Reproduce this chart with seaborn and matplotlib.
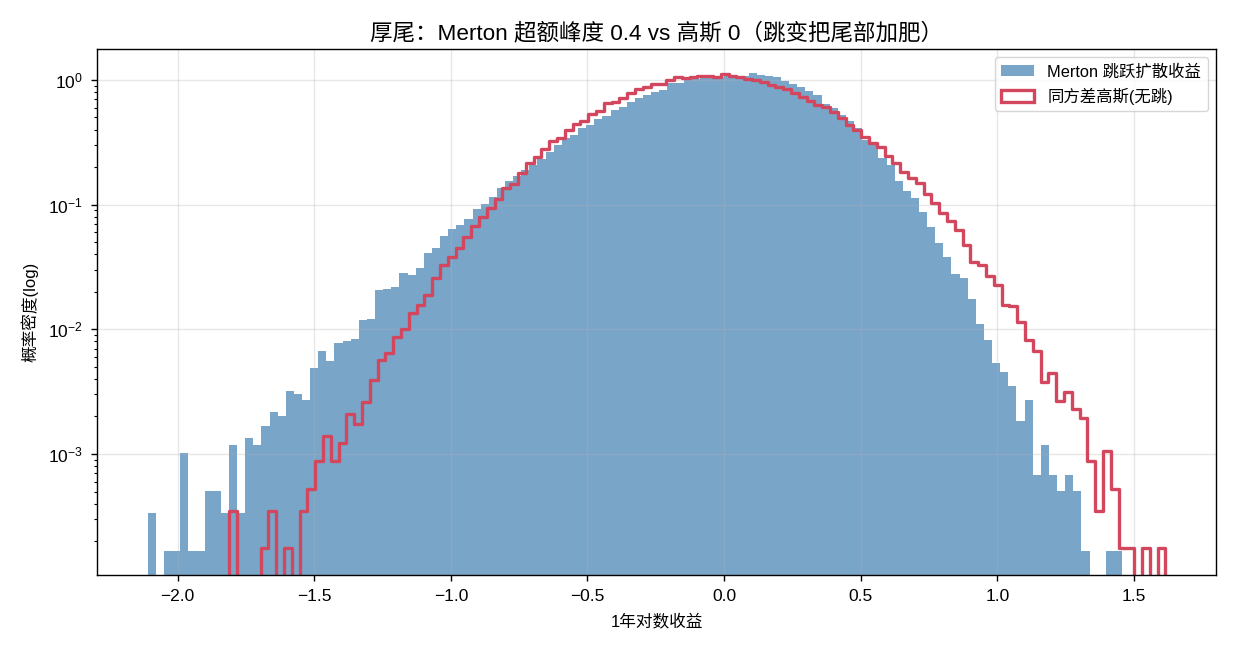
import numpy as np
import pandas as pd
import matplotlib
matplotlib.use("Agg")
import matplotlib.pyplot as plt
from matplotlib.patches import Patch
import seaborn as sns

plt.rcParams['font.family'] = ['Liberation Sans', 'Noto Sans CJK SC', 'DejaVu Sans']
plt.rcParams['mathtext.fontset'] = 'custom'
plt.rcParams['mathtext.rm'] = 'Liberation Sans'
plt.rcParams['mathtext.it'] = 'Liberation Sans:italic'
plt.rcParams['mathtext.bf'] = 'Liberation Sans:bold'
plt.rcParams['axes.unicode_minus'] = True
plt.rcParams['axes.linewidth'] = 1.0
plt.rcParams['axes.labelpad'] = 6.5
plt.rcParams['axes.titlepad'] = 7.2
for a in ('xtick', 'ytick'):
    plt.rcParams[a + '.major.size'] = 4.2
    plt.rcParams[a + '.major.pad'] = 6.0
    plt.rcParams[a + '.major.width'] = 1.0
    plt.rcParams[a + '.minor.size'] = 2.4
    plt.rcParams[a + '.minor.width'] = 0.8

# Merton jump-diffusion 1y log returns: density per bin (120 bins, -2.109 .. 1.456)
merton_lo, merton_hi = -2.109, 1.456
merton_density = [
    3.37e-4, 0, 1.68e-4, 1.68e-4, 1.01e-3, 1.68e-4, 1.68e-4, 5.05e-4, 5.05e-4, 3.37e-4,
    1.18e-3, 3.37e-4, 1.35e-3, 1.18e-3, 1.68e-3, 2.19e-3, 2.02e-3, 3.20e-3, 3.03e-3, 2.69e-3,
    4.90e-3, 6.70e-3, 5.57e-3, 7.77e-3, 8.06e-3, 8.36e-3, 1.19e-2, 1.21e-2, 2.07e-2, 2.11e-2,
    2.19e-2, 2.83e-2, 2.73e-2, 3.10e-2, 4.10e-2, 4.49e-2, 5.61e-2, 6.38e-2, 6.87e-2, 7.67e-2,
    9.23e-2, 0.101, 0.115, 0.136, 0.155, 0.170, 0.190, 0.208, 0.231, 0.266,
    0.301, 0.341, 0.362, 0.410, 0.436, 0.487, 0.517, 0.575, 0.607, 0.666,
    0.713, 0.758, 0.801, 0.831, 0.941, 0.952, 1.000, 1.019, 1.038, 1.051,
    1.063, 1.097, 1.077, 1.083, 1.131, 1.097, 1.077, 1.057, 0.982, 0.929,
    0.879, 0.816, 0.758, 0.642, 0.596, 0.524, 0.469, 0.412, 0.330, 0.301,
    0.238, 0.208, 0.156, 0.129, 0.113, 8.73e-2, 6.62e-2, 4.95e-2, 3.80e-2, 2.78e-2,
    2.58e-2, 1.75e-2, 1.10e-2, 8.22e-3, 5.37e-3, 4.55e-3, 3.51e-3, 1.85e-3, 2.71e-3, 6.73e-4,
    1.18e-3, 6.73e-4, 5.05e-4, 6.73e-4, 5.05e-4, 1.68e-4, 0, 0, 1.68e-4, 1.68e-4,
]

# same-variance Gaussian (no jumps): density per bin (120 bins, -1.810 .. 1.615)
gauss_lo, gauss_hi = -1.810, 1.615
gauss_density = [
    3.50e-4, 0, 0, 0, 1.75e-4, 3.50e-4, 0, 1.75e-4, 0, 3.50e-4,
    5.26e-4, 8.76e-4, 1.40e-3, 8.76e-4, 1.23e-3, 2.10e-3, 1.75e-3, 2.63e-3, 3.92e-3, 5.68e-3,
    6.46e-3, 8.69e-3, 1.00e-2, 1.35e-2, 1.57e-2, 1.88e-2, 2.58e-2, 3.28e-2, 3.80e-2, 4.49e-2,
    5.50e-2, 6.74e-2, 7.96e-2, 9.40e-2, 0.111, 0.136, 0.147, 0.179, 0.215, 0.240,
    0.278, 0.324, 0.344, 0.397, 0.441, 0.472, 0.534, 0.567, 0.650, 0.662,
    0.721, 0.782, 0.842, 0.874, 0.929, 0.929, 1.000, 1.063, 1.043, 1.063,
    1.083, 1.083, 1.063, 1.107, 1.083, 1.051, 1.019, 1.000, 0.964, 0.912,
    0.884, 0.842, 0.791, 0.735, 0.682, 0.627, 0.611, 0.557, 0.499, 0.436,
    0.397, 0.351, 0.311, 0.292, 0.247, 0.217, 0.184, 0.163, 0.149, 0.121,
    0.103, 8.53e-2, 7.40e-2, 6.26e-2, 4.75e-2, 3.45e-2, 3.28e-2, 2.69e-2, 2.27e-2, 1.57e-2,
    1.54e-2, 1.15e-2, 8.22e-3, 6.70e-3, 3.75e-3, 4.44e-3, 2.66e-3, 3.16e-3, 2.28e-3, 1.93e-3,
    8.76e-4, 3.50e-4, 1.05e-3, 5.26e-4, 1.75e-4, 1.75e-4, 0, 1.75e-4, 0, 1.75e-4,
]

title = "厚尾：Merton 超额峰度 0.4 vs 高斯 0（跳变把尾部加肥）"
label_merton = "Merton 跳跃扩散收益"
label_gauss = "同方差高斯(无跳)"

blue = "steelblue"
red = "#d2475d"

merton_edges = np.linspace(merton_lo, merton_hi, len(merton_density) + 1)
df_m = pd.DataFrame({"r": (merton_edges[:-1] + merton_edges[1:]) / 2,
                     "w": merton_density})

# pad one empty bin each side so the step outline closes down to the axis
gw = (gauss_hi - gauss_lo) / len(gauss_density)
gauss_edges = np.linspace(gauss_lo - gw, gauss_hi + gw, len(gauss_density) + 3)
df_g = pd.DataFrame({"r": (gauss_edges[:-1] + gauss_edges[1:]) / 2,
                     "w": [0] + gauss_density + [0]})

fig, ax = plt.subplots(figsize=(12.35, 6.5), dpi=100)
fig.subplots_adjust(left=0.0785, right=0.9846, top=0.9246, bottom=0.1154)

sns.histplot(data=df_m, x="r", weights="w", bins=list(merton_edges), stat="count",
             color=blue, alpha=0.72, linewidth=0, ax=ax)
sns.histplot(data=df_g, x="r", weights="w", bins=list(gauss_edges), stat="count",
             element="step", fill=False, color=red, linewidth=2.4, ax=ax)

ax.set_yscale("log")
ax.set_ylim(1.07e-4, 1.77)
ax.set_xlim(-2.295, 1.80)
ax.grid(True, alpha=0.3, linewidth=1.0)
ax.tick_params(labelsize=12.5)
ax.set_title(title, fontsize=16.2)
ax.set_xlabel("1年对数收益", fontsize=12)
ax.set_ylabel("概率密度(log)", fontsize=12)

handles = [Patch(facecolor=blue, alpha=0.72, label=label_merton),
           Patch(facecolor="none", edgecolor=red, linewidth=2.4, label=label_gauss)]
ax.legend(handles=handles, loc="upper right", fontsize=11.8)

fig.savefig("out.png", dpi=100)
